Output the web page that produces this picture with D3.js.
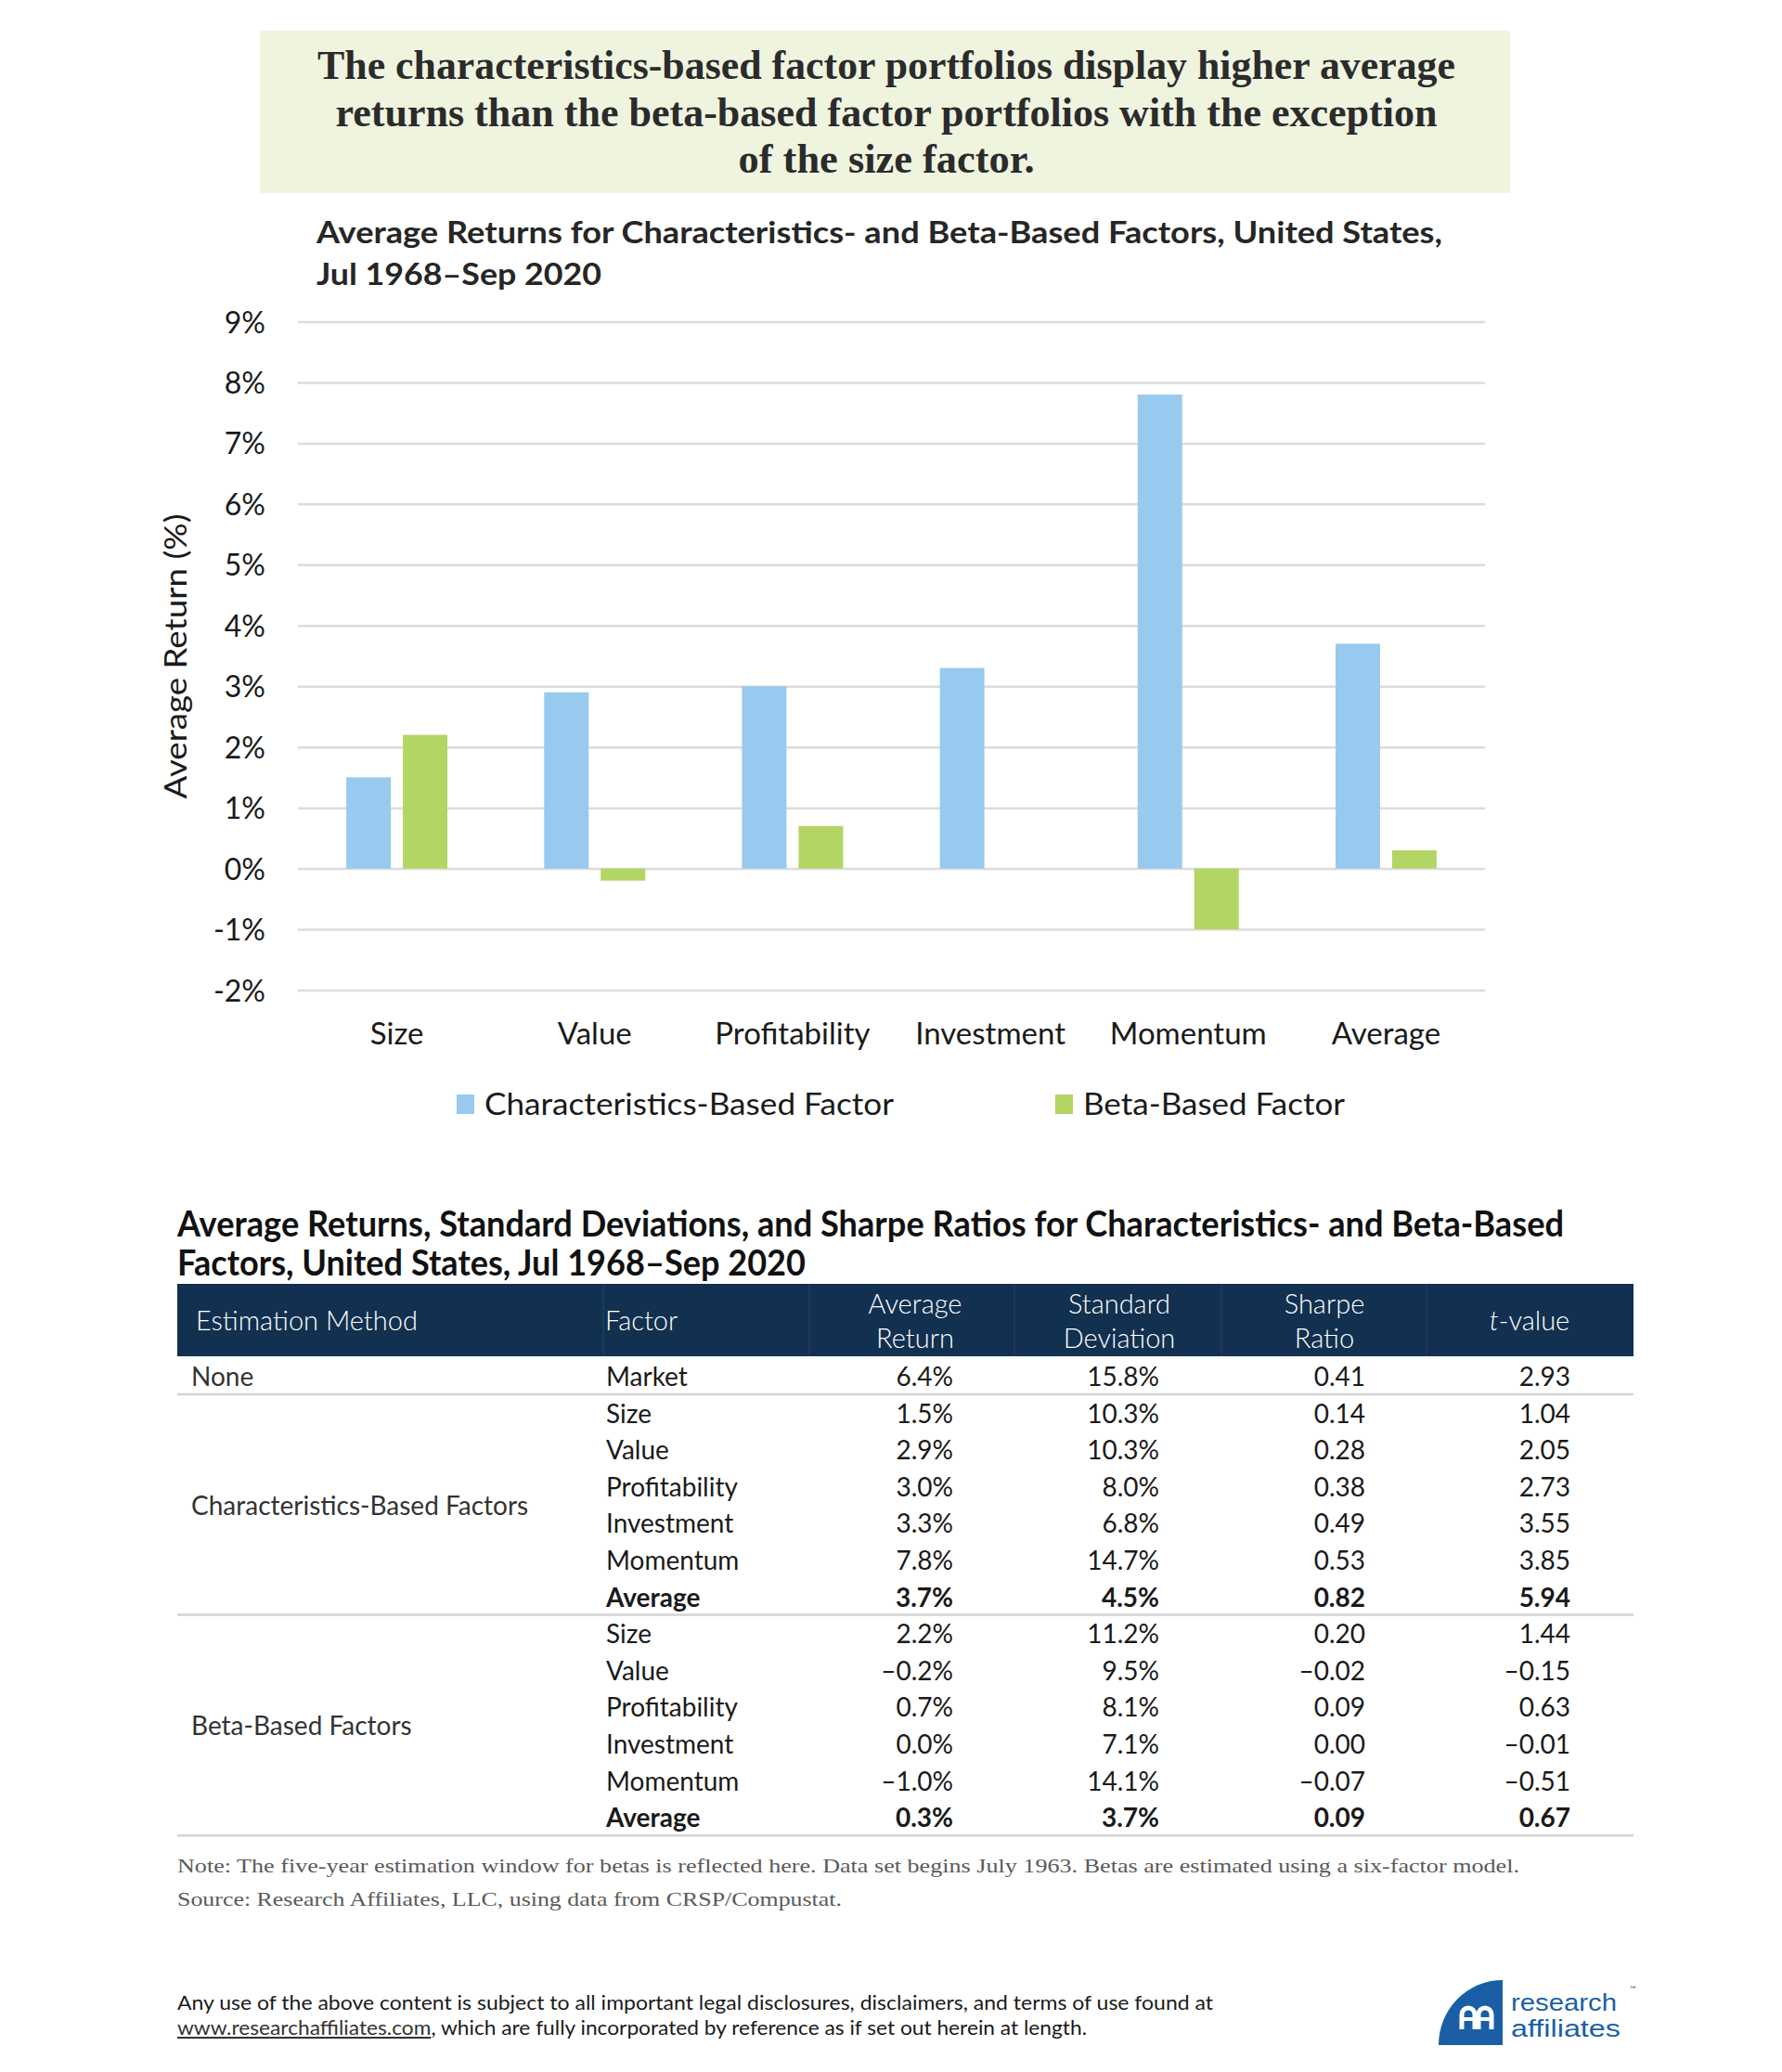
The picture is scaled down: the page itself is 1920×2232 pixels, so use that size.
<!DOCTYPE html>
<html>
<head>
<meta charset="utf-8">
<script src="https://cdn.jsdelivr.net/npm/d3@7"></script>
<style>
  html, body { margin: 0; padding: 0; background: #ffffff; }
  svg { display: block; }
</style>
</head>
<body>
<div id="chart"></div>
<script>
// ---------------- DATA ----------------
const headlineLines = [
  "The characteristics-based factor portfolios display higher average",
  "returns than the beta-based factor portfolios with the exception",
  "of the size factor."
];
const chartTitleLines = [
  "Average Returns for Characteristics- and Beta-Based Factors, United States,",
  "Jul 1968–Sep 2020"
];
const categories = ["Size", "Value", "Profitability", "Investment", "Momentum", "Average"];
const seriesNames = ["Characteristics-Based Factor", "Beta-Based Factor"];
const charValues = [1.5, 2.9, 3.0, 3.3, 7.8, 3.7];
const betaValues = [2.2, -0.2, 0.7, 0.0, -1.0, 0.3];
const yTicks = [-2, -1, 0, 1, 2, 3, 4, 5, 6, 7, 8, 9];
const yAxisTitle = "Average Return (%)";

const tableTitleLines = [
  "Average Returns, Standard Deviations, and Sharpe Ratios for Characteristics- and Beta-Based",
  "Factors, United States, Jul 1968–Sep 2020"
];
const tableHeaders = [["Estimation Method"], ["Factor"], ["Average", "Return"], ["Standard", "Deviation"], ["Sharpe", "Ratio"], ["t-value"]];
const methodGroups = ["None", "Characteristics-Based Factors", "Beta-Based Factors"];
const methodRowSpans = [[0, 0], [1, 6], [7, 12]];
const tableFactors = ["Market", "Size", "Value", "Profitability", "Investment", "Momentum", "Average",
                      "Size", "Value", "Profitability", "Investment", "Momentum", "Average"];
const avgReturn = [6.4, 1.5, 2.9, 3.0, 3.3, 7.8, 3.7, 2.2, -0.2, 0.7, 0.0, -1.0, 0.3];
const stdDev    = [15.8, 10.3, 10.3, 8.0, 6.8, 14.7, 4.5, 11.2, 9.5, 8.1, 7.1, 14.1, 3.7];
const sharpe    = [0.41, 0.14, 0.28, 0.38, 0.49, 0.53, 0.82, 0.20, -0.02, 0.09, 0.00, -0.07, 0.09];
const tValue    = [2.93, 1.04, 2.05, 2.73, 3.55, 3.85, 5.94, 1.44, -0.15, 0.63, -0.01, -0.51, 0.67];
const boldRows  = [6, 12];

const noteLines = [
  "Note: The five-year estimation window for betas is reflected here. Data set begins July 1963. Betas are estimated using a six-factor model.",
  "Source: Research Affiliates, LLC, using data from CRSP/Compustat."
];
const disclaimerLine1 = "Any use of the above content is subject to all important legal disclosures, disclaimers, and terms of use found at";
const disclaimerLink = "www.researchaffiliates.com";
const disclaimerLine2 = ", which are fully incorporated by reference as if set out herein at length.";
const logoWords = ["research", "affiliates"];

// ---------------- DRAW ----------------
const W = 1920, H = 2232;
const svg = d3.select("#chart").append("svg").attr("width", W).attr("height", H);
svg.append("rect").attr("width", W).attr("height", H).attr("fill", "#ffffff");

const SANS = "Lato, 'Open Sans', sans-serif";
const SERIF = "'Liberation Serif', 'DejaVu Serif', serif";
function fit(sel, w) { sel.attr("textLength", w).attr("lengthAdjust", "spacingAndGlyphs"); return sel; }

// Headline box
svg.append("rect").attr("x", 280).attr("y", 33).attr("width", 1347).attr("height", 175).attr("fill", "#eff4df");
const headlineWidths = [1226, 1187, 319];
headlineLines.forEach((t, i) => {
  fit(svg.append("text").attr("x", 955).attr("y", 85 + i * 50.5)
    .attr("text-anchor", "middle").attr("font-family", SERIF).attr("font-weight", "bold")
    .attr("font-size", 44).attr("fill", "#2b2b2b").text(t), headlineWidths[i]);
});

// Chart title
const chartTitleWidths = [1213, 307];
chartTitleLines.forEach((t, i) => {
  fit(svg.append("text").attr("x", 341).attr("y", 262 + i * 45)
    .attr("font-family", SANS).attr("font-weight", "bold").attr("font-size", 32)
    .attr("fill", "#262626").text(t), chartTitleWidths[i]);
});

// Scales
const y = d3.scaleLinear().domain([-2, 9]).range([1066.5, 346.5]);
const x0 = d3.scaleBand().domain(categories).range([321, 1600]).paddingInner(0.489).paddingOuter(0.2445);
const x1 = d3.scaleBand().domain(seriesNames).range([0, x0.bandwidth()]).paddingInner(0.213);
const color = d3.scaleOrdinal().domain(seriesNames).range(["#97caee", "#b3d563"]);

// Gridlines + y ticks via axis
const yAxis = d3.axisLeft(y).tickValues(yTicks).tickSize(-(1600 - 321)).tickFormat(d => d + "%").tickPadding(35);
const gy = svg.append("g").attr("transform", "translate(321,0)").call(yAxis);
gy.select(".domain").remove();
gy.selectAll(".tick line").attr("stroke", "#dcdcdc").attr("stroke-width", 2.5);
gy.selectAll(".tick text").attr("font-family", SANS).attr("font-size", 32).attr("fill", "#1a1a1a").attr("dy", "0.36em");

// Bars
const barData = categories.map((c, i) => ({ cat: c, vals: [
  { s: seriesNames[0], v: charValues[i] }, { s: seriesNames[1], v: betaValues[i] }] }));
const groups = svg.append("g").selectAll("g").data(barData).join("g")
  .attr("transform", d => `translate(${x0(d.cat)},0)`);
groups.selectAll("rect").data(d => d.vals).join("rect")
  .attr("x", d => x1(d.s)).attr("width", x1.bandwidth())
  .attr("y", d => y(Math.max(0, d.v))).attr("height", d => Math.abs(y(d.v) - y(0)))
  .attr("fill", d => color(d.s));

// X axis labels
const xAxis = d3.axisBottom(x0).tickSize(0).tickPadding(0);
const gx = svg.append("g").attr("transform", "translate(0,1101)").call(xAxis);
gx.select(".domain").remove();
gx.selectAll(".tick text").attr("font-family", SANS).attr("font-size", 33).attr("fill", "#1a1a1a").attr("dy", "0.72em");

// Y axis title
fit(svg.append("text").attr("transform", "translate(201,707) rotate(-90)").attr("text-anchor", "middle")
  .attr("font-family", SANS).attr("font-size", 32).attr("fill", "#1a1a1a").text(yAxisTitle), 307);

// Legend
const legendX = [492, 1137];
const legendW = [441, 282];
seriesNames.forEach((s, i) => {
  svg.append("rect").attr("x", legendX[i]).attr("y", 1179).attr("width", 19).attr("height", 21).attr("fill", color(s));
  fit(svg.append("text").attr("x", legendX[i] + 30).attr("y", 1201).attr("font-family", SANS)
    .attr("font-size", 33).attr("fill", "#1a1a1a").text(s), legendW[i]);
});

// Table title
const tableTitleWidths = [1494, 677];
tableTitleLines.forEach((t, i) => {
  fit(svg.append("text").attr("x", 191).attr("y", 1332 + i * 42)
    .attr("font-family", SANS).attr("font-weight", "bold").attr("font-size", 39)
    .attr("fill", "#111111").text(t), tableTitleWidths[i]);
});

// Table header
const tableLeft = 191, tableRight = 1760;
svg.append("rect").attr("x", tableLeft).attr("y", 1383).attr("width", tableRight - tableLeft).attr("height", 78).attr("fill", "#12304f");
[650, 872, 1093, 1316, 1537].forEach(xv => {
  svg.append("line").attr("x1", xv).attr("x2", xv).attr("y1", 1383).attr("y2", 1461)
    .attr("stroke", "#22405f").attr("stroke-width", 1.2);
});
const headerX = [211, 652, 986, 1206, 1427, 1648];
const headerAnchor = ["start", "start", "middle", "middle", "middle", "middle"];
tableHeaders.forEach((lines, i) => {
  const t = svg.append("text").attr("x", headerX[i]).attr("text-anchor", headerAnchor[i])
    .attr("font-family", SANS).attr("font-size", 29).attr("fill", "#ffffff").attr("font-weight", 300);
  if (lines.length === 1) {
    t.attr("y", 1433);
    if (lines[0] === "t-value") {
      t.append("tspan").attr("font-style", "italic").text("t");
      t.append("tspan").text("-value");
    } else t.text(lines[0]);
  } else {
    lines.forEach((l, j) => t.append("tspan").attr("x", headerX[i]).attr("y", 1415 + j * 37).text(l));
  }
});

// Table rows
const rowY = i => 1493 + i * 39.6;
const fmtPct = v => (v < 0 ? "–" : "") + Math.abs(v).toFixed(1) + "%";
const fmt2 = v => (v < 0 ? "–" : "") + Math.abs(v).toFixed(2);
const numCols = [
  { vals: avgReturn, f: fmtPct, x: 1027 },
  { vals: stdDev, f: fmtPct, x: 1249 },
  { vals: sharpe, f: fmt2, x: 1471 },
  { vals: tValue, f: fmt2, x: 1692 }
];
tableFactors.forEach((f, i) => {
  const bold = boldRows.includes(i);
  svg.append("text").attr("x", 653).attr("y", rowY(i)).attr("font-family", SANS).attr("font-size", 28)
    .attr("font-weight", bold ? 700 : 400).attr("fill", "#1a1a1a").text(f);
  numCols.forEach(c => {
    svg.append("text").attr("x", c.x).attr("y", rowY(i)).attr("text-anchor", "end")
      .attr("font-family", SANS).attr("font-size", 28).attr("font-weight", bold ? 700 : 400)
      .attr("fill", "#1a1a1a").text(c.f(c.vals[i]));
  });
});
methodGroups.forEach((m, i) => {
  const [a, b] = methodRowSpans[i];
  svg.append("text").attr("x", 206).attr("y", (rowY(a) + rowY(b)) / 2).attr("font-family", SANS)
    .attr("font-size", 28).attr("fill", "#333333").text(m);
});
methodRowSpans.forEach(([a, b]) => {
  const ly = rowY(b) + 9;
  svg.append("line").attr("x1", tableLeft).attr("x2", tableRight).attr("y1", ly).attr("y2", ly)
    .attr("stroke", "#d3d3d3").attr("stroke-width", 2.5);
});

// Notes
const noteWidths = [1446, 716];
noteLines.forEach((t, i) => {
  fit(svg.append("text").attr("x", 191).attr("y", 2017 + i * 36).attr("font-family", SERIF)
    .attr("font-size", 22).attr("fill", "#5a5a5a").text(t), noteWidths[i]);
});

// Disclaimer
fit(svg.append("text").attr("x", 191).attr("y", 2165).attr("font-family", SANS).attr("font-size", 21)
  .attr("fill", "#1a1a1a").text(disclaimerLine1), 1116);
const d2 = svg.append("text").attr("x", 191).attr("y", 2192).attr("font-family", SANS).attr("font-size", 21).attr("fill", "#1a1a1a");
d2.append("tspan").attr("fill", "#333333").attr("text-decoration", "underline").text(disclaimerLink);
d2.append("tspan").text(disclaimerLine2);
fit(d2, 980);

// Logo
const logoBlue = "#1a5fa6";
svg.append("path").attr("d", "M1550,2203 A69,70 0 0 1 1619,2133 L1619,2203 Z").attr("fill", logoBlue);
const mark = svg.append("g").attr("fill", "none").attr("stroke", "#ffffff").attr("stroke-width", 5);
[1573, 1591].forEach(x0m => {
  mark.append("path").attr("d", `M${x0m + 2},2186 V2170 A7,7 0 0 1 ${x0m + 16},2170 V2186`);
});
mark.append("line").attr("x1", 1573).attr("x2", 1609).attr("y1", 2175).attr("y2", 2175).attr("stroke-width", 4);
const logoW = [114, 118];
logoWords.forEach((w, i) => {
  fit(svg.append("text").attr("x", 1628).attr("y", 2166 + i * 28).attr("font-family", "'Liberation Sans', Arial, sans-serif")
    .attr("font-size", 25).attr("fill", logoBlue).text(w), logoW[i]);
});
svg.append("text").attr("x", 1756).attr("y", 2146).attr("font-family", SANS).attr("font-size", 9)
  .attr("fill", logoBlue).text("™");
</script>
</body>
</html>
